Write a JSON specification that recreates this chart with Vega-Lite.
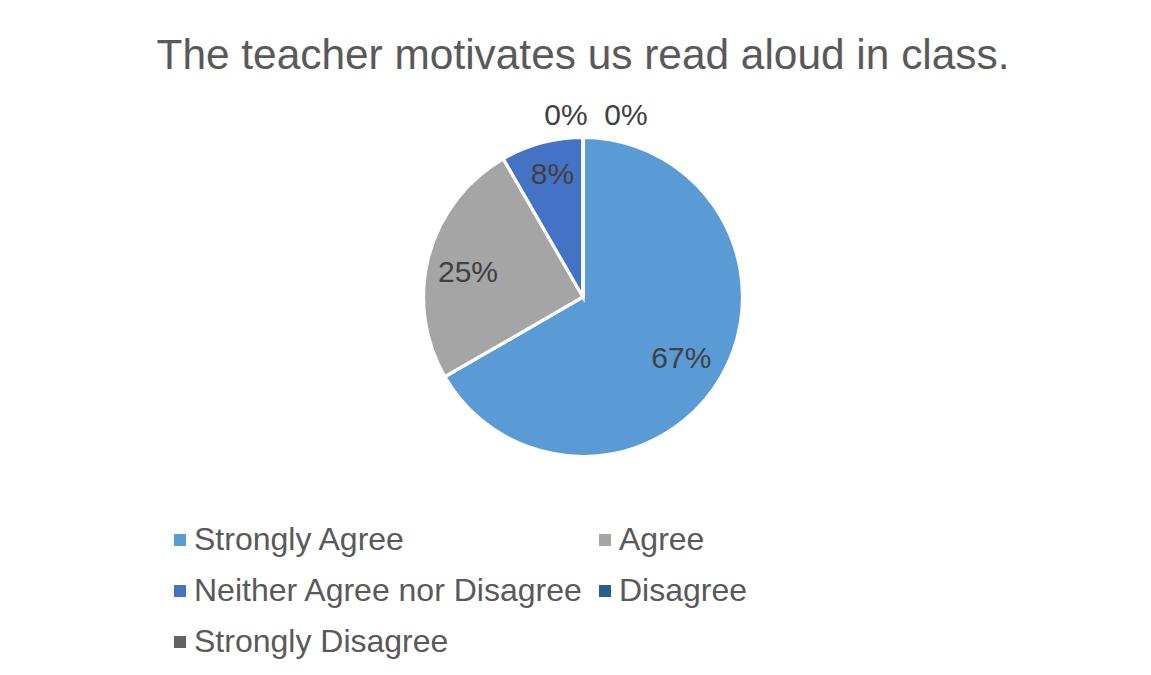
{
  "$schema": "https://vega.github.io/schema/vega-lite/v6.json",
  "autosize": {"type": "none"},
  "width": 820,
  "height": 434,
  "padding": {"left": 173, "top": 80, "right": 158, "bottom": 161},
  "background": "white",
  "title": {
    "text": "The teacher motivates us read aloud in class.",
    "font": "Liberation Sans",
    "fontSize": 42.4,
    "fontWeight": "normal",
    "color": "#595959",
    "anchor": "middle",
    "offset": 2
  },
  "data": {
    "values": [
      {"response": "Strongly Agree", "share": 0.6667},
      {"response": "Agree", "share": 0.25},
      {"response": "Neither Agree nor Disagree", "share": 0.0833},
      {"response": "Disagree", "share": 0},
      {"response": "Strongly Disagree", "share": 0}
    ]
  },
  "encoding": {
    "theta": {"field": "share", "type": "quantitative", "stack": true},
    "order": {"field": "share", "type": "quantitative", "sort": "descending"}
  },
  "layer": [
    {
      "mark": {"type": "arc", "outerRadius": 159.5, "stroke": "white", "strokeWidth": 3.2},
      "encoding": {
        "color": {
          "field": "response",
          "type": "nominal",
          "scale": {
            "domain": ["Strongly Agree", "Agree", "Neither Agree nor Disagree", "Disagree", "Strongly Disagree"],
            "range": ["#5B9BD5", "#A5A5A5", "#4472C4", "#255E91", "#636363"]
          },
          "legend": {
            "orient": "bottom",
            "title": null,
            "columns": 2,
            "symbolType": "square",
            "symbolSize": 144,
            "symbolStrokeWidth": 0,
            "symbolOffset": -9,
            "labelFont": "Liberation Sans",
            "labelFontSize": 32,
            "labelColor": "#595959",
            "labelLimit": 1000,
            "rowPadding": 19,
            "columnPadding": 14,
            "labelOffset": -2,
            "offset": 10,
            "padding": 0
          }
        }
      }
    },
    {
      "mark": {"type": "text", "radius": 117, "dx": -3, "dy": 3, "font": "Liberation Sans", "fontSize": 30, "color": "#404040", "align": "center", "baseline": "middle"},
      "encoding": {
        "detail": {"field": "response", "type": "nominal"},
        "text": {
          "condition": {"test": "datum.response == 'Strongly Agree'", "field": "share", "type": "quantitative", "format": ".0%"},
          "value": ""
        }
      }
    },
    {
      "mark": {"type": "text", "radius": 117, "dx": -2, "dy": 6, "font": "Liberation Sans", "fontSize": 30, "color": "#404040", "align": "center", "baseline": "middle"},
      "encoding": {
        "detail": {"field": "response", "type": "nominal"},
        "text": {
          "condition": {"test": "datum.response == 'Agree'", "field": "share", "type": "quantitative", "format": ".0%"},
          "value": ""
        }
      }
    },
    {
      "mark": {"type": "text", "radius": 126, "dx": 2, "font": "Liberation Sans", "fontSize": 30, "color": "#404040", "align": "center", "baseline": "middle"},
      "encoding": {
        "detail": {"field": "response", "type": "nominal"},
        "text": {
          "condition": {"test": "datum.response == 'Neither Agree nor Disagree'", "field": "share", "type": "quantitative", "format": ".0%"},
          "value": ""
        }
      }
    },
    {
      "mark": {"type": "text", "radius": 180, "dx": -17, "dy": -1, "font": "Liberation Sans", "fontSize": 30, "color": "#404040", "align": "center", "baseline": "middle"},
      "encoding": {
        "detail": {"field": "response", "type": "nominal"},
        "text": {
          "condition": {"test": "datum.response == 'Disagree'", "field": "share", "type": "quantitative", "format": ".0%"},
          "value": ""
        }
      }
    },
    {
      "mark": {"type": "text", "radius": 180, "dx": 43, "dy": -1, "font": "Liberation Sans", "fontSize": 30, "color": "#404040", "align": "center", "baseline": "middle"},
      "encoding": {
        "detail": {"field": "response", "type": "nominal"},
        "text": {
          "condition": {"test": "datum.response == 'Strongly Disagree'", "field": "share", "type": "quantitative", "format": ".0%"},
          "value": ""
        }
      }
    }
  ]
}
